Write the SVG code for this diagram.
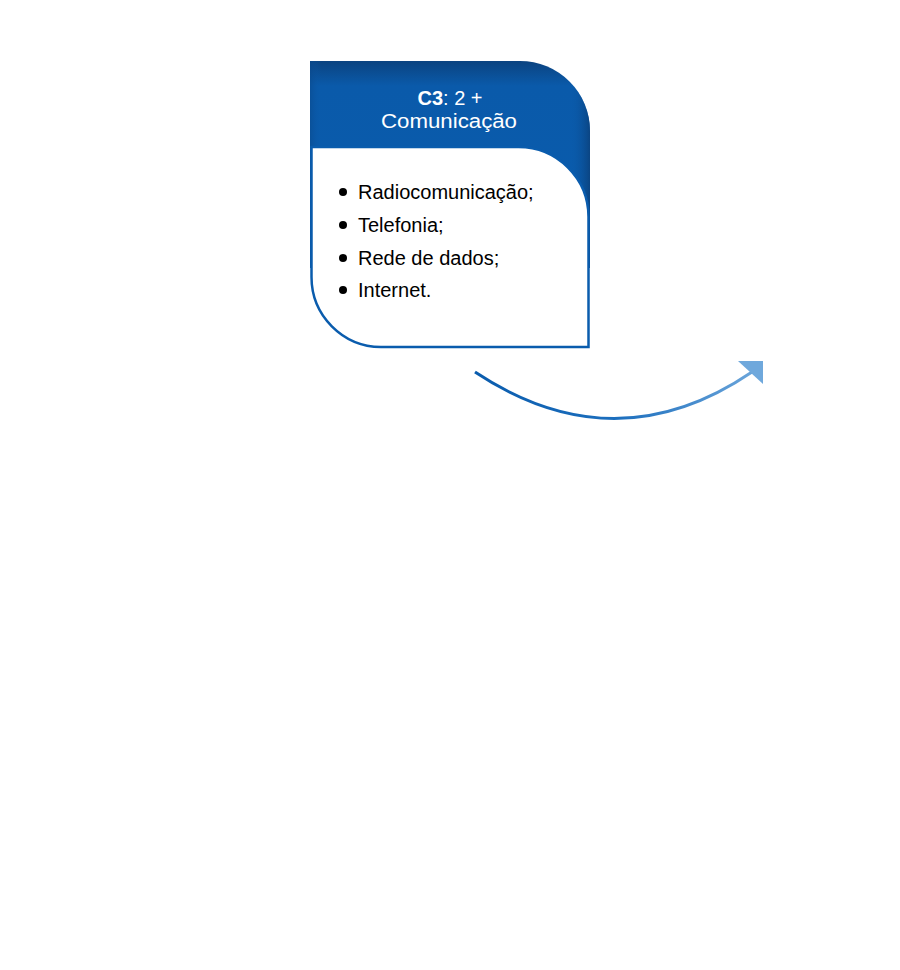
<svg xmlns="http://www.w3.org/2000/svg" width="900" height="970" viewBox="0 0 900 970">
<defs>
<style>
.hdr{font-family:"Liberation Sans",Arial,sans-serif;font-size:20px;fill:#fff;text-anchor:middle}
.item{font-family:"Liberation Sans",Arial,sans-serif;font-size:20px;fill:#000}
</style>
<linearGradient id="gv" x1="0" y1="0" x2="0" y2="1">
<stop offset="0" stop-color="#0b4380"/>
<stop offset="0.12" stop-color="#0a5aaa"/>
<stop offset="1" stop-color="#0a5cad"/>
</linearGradient>
<linearGradient id="gh" x1="0" y1="0" x2="1" y2="0">
<stop offset="0" stop-color="#0a4a8e" stop-opacity="0.6"/>
<stop offset="0.04" stop-color="#0a5aaa" stop-opacity="0"/>
<stop offset="0.93" stop-color="#0a5aaa" stop-opacity="0"/>
<stop offset="1" stop-color="#0b3f78" stop-opacity="0.8"/>
</linearGradient>
<linearGradient id="ga" gradientUnits="userSpaceOnUse" x1="475" y1="0" x2="763" y2="0">
<stop offset="0" stop-color="#0a5cad"/>
<stop offset="0.5" stop-color="#1d6fbe"/>
<stop offset="1" stop-color="#6fa8dc"/>
</linearGradient>
</defs>
<g id="node-c3">
<path d="M310,61 H520 A70,70 0 0 1 590,131 V268 H310 Z" fill="url(#gv)"/>
<path d="M310,61 H520 A70,70 0 0 1 590,131 V268 H310 Z" fill="url(#gh)"/>
<path d="M311.5,147 H518 A70,70 0 0 1 588.5,217 V347 H381 A70,70 0 0 1 311.5,277 Z" fill="#fff" stroke="#0a5cad" stroke-width="2.5"/>
<text class="hdr" x="450" y="105"><tspan font-weight="bold">C3</tspan>: 2 +</text>
<text class="hdr" x="449" y="128" textLength="136" lengthAdjust="spacingAndGlyphs">Comunicação</text>
<g>
<circle cx="343" cy="192" r="4"/>
<text class="item" x="358" y="199">Radiocomunicação;</text>
<circle cx="343" cy="225" r="4"/>
<text class="item" x="358" y="232">Telefonia;</text>
<circle cx="343" cy="258" r="4"/>
<text class="item" x="358" y="265">Rede de dados;</text>
<circle cx="343" cy="290" r="4"/>
<text class="item" x="358" y="297">Internet.</text>
</g>
</g>
<g id="connectors">
<path d="M475,372 Q615,465 752,372" fill="none" stroke="url(#ga)" stroke-width="3"/>
<polygon points="738,361 763,361 763,384" fill="#6fa8dc"/>
</g>
</svg>
